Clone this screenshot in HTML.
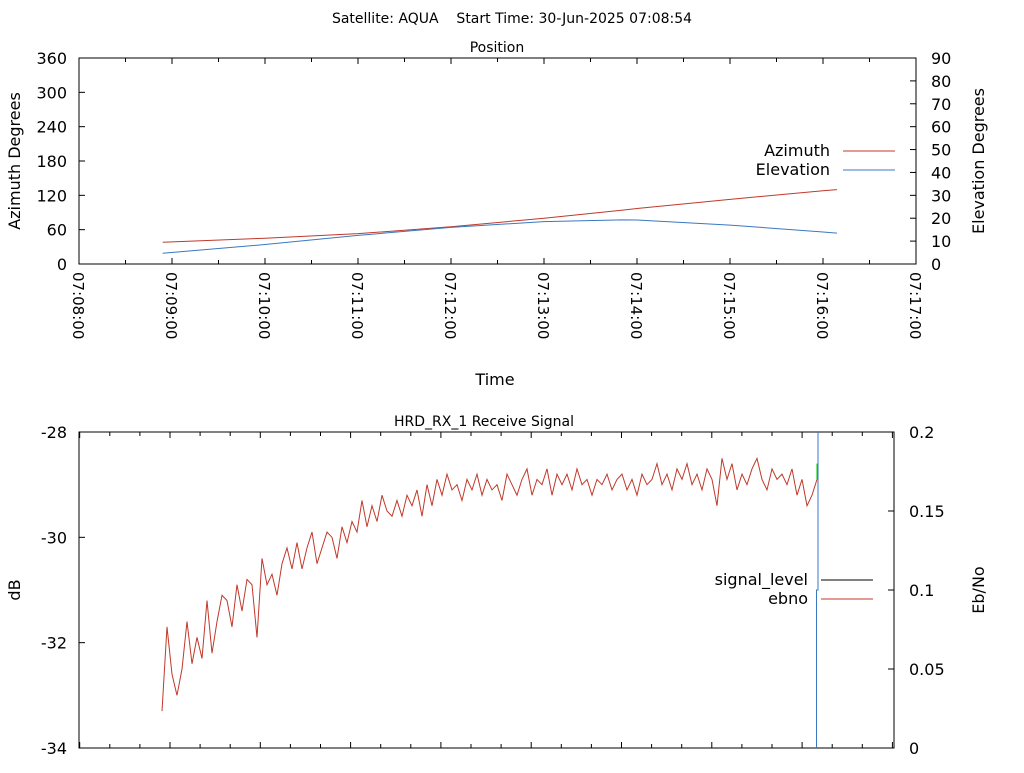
<!DOCTYPE html>
<html><head><meta charset="utf-8"><style>
body{margin:0;background:#fff;width:1024px;height:768px;overflow:hidden}
svg{font-family:"DejaVu Sans","Liberation Sans",sans-serif;}
</style></head><body>
<svg id="c" width="1024" height="768">
<text x="512" y="23" text-anchor="middle" font-size="14" style="white-space:pre">Satellite: AQUA    Start Time: 30-Jun-2025 07:08:54</text>
</svg>
<script>
// ---- Position chart data ----
const posTimes=["07:08:54","07:10:00","07:11:00","07:12:00","07:13:00","07:13:50","07:14:00","07:15:00","07:16:00","07:16:09"];
const azimuth=[38,45,53,65,80,94,97,113,128,130];
const elevation=[4.7,8.5,12.5,16,18.5,19.3,19.2,17,14,13.5];
const posTickLabels=["07:08:00","07:09:00","07:10:00","07:11:00","07:12:00","07:13:00","07:14:00","07:15:00","07:16:00","07:17:00"];
const azTicks=[0,60,120,180,240,300,360];
const elTicks=[0,10,20,30,40,50,60,70,80,90];
// ---- Receive signal data ----
const signalLevel=[-33.3,-31.7,-32.6,-33.0,-32.5,-31.6,-32.4,-31.9,-32.3,-31.2,-32.2,-31.6,-31.1,-31.2,-31.7,-30.9,-31.4,-30.8,-30.9,-31.9,-30.4,-30.9,-30.7,-31.1,-30.5,-30.2,-30.6,-30.1,-30.6,-30.2,-29.9,-30.5,-30.2,-29.9,-30.0,-30.4,-29.8,-30.1,-29.7,-29.9,-29.3,-29.8,-29.4,-29.7,-29.2,-29.5,-29.6,-29.3,-29.6,-29.2,-29.4,-29.1,-29.6,-29.0,-29.4,-28.9,-29.2,-28.8,-29.1,-29.0,-29.3,-28.9,-29.1,-28.8,-29.2,-28.9,-29.1,-29.0,-29.3,-28.8,-29.0,-29.2,-28.9,-28.7,-29.2,-28.9,-29.0,-28.7,-29.2,-28.8,-29.0,-28.8,-29.1,-28.7,-29.0,-28.9,-29.2,-28.9,-29.0,-28.8,-29.1,-28.9,-28.8,-29.1,-28.9,-29.2,-28.8,-29.0,-28.9,-28.6,-29.0,-28.8,-29.1,-28.7,-28.9,-28.6,-29.0,-28.8,-29.1,-28.7,-28.9,-29.4,-28.5,-28.9,-28.6,-29.1,-28.8,-29.0,-28.7,-28.5,-28.9,-29.1,-28.7,-28.9,-28.8,-29.0,-28.7,-29.2,-28.9,-29.4,-29.2,-28.9];
const ebno=[0,0.1,0.2];
const dbTicks=[-28,-30,-32,-34];
const ebTicks=[0,0.05,0.1,0.15,0.2];

const svg=document.getElementById('c');const NS='http://www.w3.org/2000/svg';
function el(t,a,txt){const e=document.createElementNS(NS,t);for(const k in a)e.setAttribute(k,a[k]);if(txt!==undefined)e.textContent=txt;svg.appendChild(e);return e;}
function sec(t){const p=t.split(':').map(Number);return p[0]*3600+p[1]*60+p[2];}
const T={l:79,r:916,t:58,b:264};
const t0=sec("07:08:00"),t1=sec("07:17:00");
const tx=s=>T.l+(s-t0)/(t1-t0)*(T.r-T.l);
const ay=v=>T.b-v/360*(T.b-T.t);
const ey=v=>T.b-v/90*(T.b-T.t);
let r=el('rect',{x:T.l,y:T.t,width:T.r-T.l,height:T.b-T.t,fill:'none',stroke:'#000'});

let tt=el('text',{x:497,y:52,'text-anchor':'middle','font-size':14},'Position');

for(let s=t0;s<=t1;s+=30){const x=tx(s);const len=((s-t0)%60===0)?6:4;
 el('line',{x1:x,y1:T.b,x2:x,y2:T.b-len,stroke:'#000'});el('line',{x1:x,y1:T.t,x2:x,y2:T.t+len,stroke:'#000'});}
posTickLabels.forEach(l=>{const x=tx(sec(l));const e=el('text',{x:0,y:0,'font-size':15,transform:`translate(${x-6},${T.b+8}) rotate(90)`},l);
 });
azTicks.forEach(v=>{const y=ay(v);el('line',{x1:T.l,y1:y,x2:T.l+6,y2:y,stroke:'#000'});
 const e=el('text',{x:T.l-12,y:y+6,'text-anchor':'end','font-size':16},v);});
elTicks.forEach(v=>{const y=ey(v);el('line',{x1:T.r,y1:y,x2:T.r-6,y2:y,stroke:'#000'});
 const e=el('text',{x:T.r+15,y:y+6,'font-size':16},v);});
let a1=el('text',{x:0,y:0,'font-size':16,'text-anchor':'middle',transform:'translate(20,161) rotate(-90)'},'Azimuth Degrees');

let a2=el('text',{x:0,y:0,'font-size':16,'text-anchor':'middle',transform:'translate(984,161) rotate(-90)'},'Elevation Degrees');

let a3=el('text',{x:495,y:385,'font-size':16,'text-anchor':'middle'},'Time');

let az=el('polyline',{points:posTimes.map((t,i)=>tx(sec(t))+','+ay(azimuth[i])).join(' '),fill:'none',stroke:'#c0392b','stroke-width':1});

let ev=el('polyline',{points:posTimes.map((t,i)=>tx(sec(t))+','+ey(elevation[i])).join(' '),fill:'none',stroke:'#3a78c0','stroke-width':1});

let l1=el('text',{x:830,y:156,'font-size':16,'text-anchor':'end'},'Azimuth');
el('line',{x1:843,y1:151,x2:895,y2:151,stroke:'#c0392b'});
let l2=el('text',{x:830,y:175,'font-size':16,'text-anchor':'end'},'Elevation');
el('line',{x1:843,y1:170,x2:895,y2:170,stroke:'#3a78c0'});
const B={l:79,r:894,t:432,b:748};
const dy=v=>B.t+(-28-v)/6*(B.b-B.t);
const eby=v=>B.b-v/0.2*(B.b-B.t);
const sx=i=>162+i*(817-162)/(signalLevel.length-1);
let r2=el('rect',{x:B.l,y:B.t,width:B.r-B.l,height:B.b-B.t,fill:'none',stroke:'#000'});

let t2=el('text',{x:484,y:426,'text-anchor':'middle','font-size':14},'HRD_RX_1 Receive Signal');

for(let k=-3;k<=24;k++){const x=170+k*30.1;if(x<=B.l||x>=B.r)continue;const len=(k%3===0)?6:4;
 el('line',{x1:x,y1:B.b,x2:x,y2:B.b-len,stroke:'#000'});el('line',{x1:x,y1:B.t,x2:x,y2:B.t+len,stroke:'#000'});}
dbTicks.forEach(v=>{const y=dy(v);el('line',{x1:B.l,y1:y,x2:B.l+6,y2:y,stroke:'#000'});
 const e=el('text',{x:B.l-12,y:y+6,'text-anchor':'end','font-size':16},v);});
ebTicks.forEach(v=>{const y=eby(v);el('line',{x1:B.r,y1:y,x2:B.r-6,y2:y,stroke:'#000'});
 const e=el('text',{x:B.r+15,y:y+6,'font-size':16},v);});
let a4=el('text',{x:0,y:0,'font-size':16,'text-anchor':'middle',transform:'translate(20,590) rotate(-90)'},'dB');

let a5=el('text',{x:0,y:0,'font-size':16,'text-anchor':'middle',transform:'translate(984,590) rotate(-90)'},'Eb/No');

let sl=el('polyline',{points:signalLevel.map((v,i)=>sx(i)+','+dy(v)).join(' '),fill:'none',stroke:'#c0392b','stroke-width':1});

el('line',{x1:817.5,y1:dy(-28.6),x2:817.5,y2:dy(-28.9),stroke:'#00cc00','stroke-width':2});
let ebp=el('polyline',{points:`816.5,${eby(ebno[0])} 816.5,${eby(ebno[1])} 818,${eby(ebno[1])} 818,${eby(ebno[2])}`,fill:'none',stroke:'#3a78c0','stroke-width':1});

let l3=el('text',{x:808,y:585,'font-size':16,'text-anchor':'end'},'signal_level');
el('line',{x1:821,y1:580,x2:873,y2:580,stroke:'#000'});
let l4=el('text',{x:808,y:604,'font-size':16,'text-anchor':'end'},'ebno');
el('line',{x1:821,y1:599,x2:873,y2:599,stroke:'#c0392b'});
</script>
</body></html>
